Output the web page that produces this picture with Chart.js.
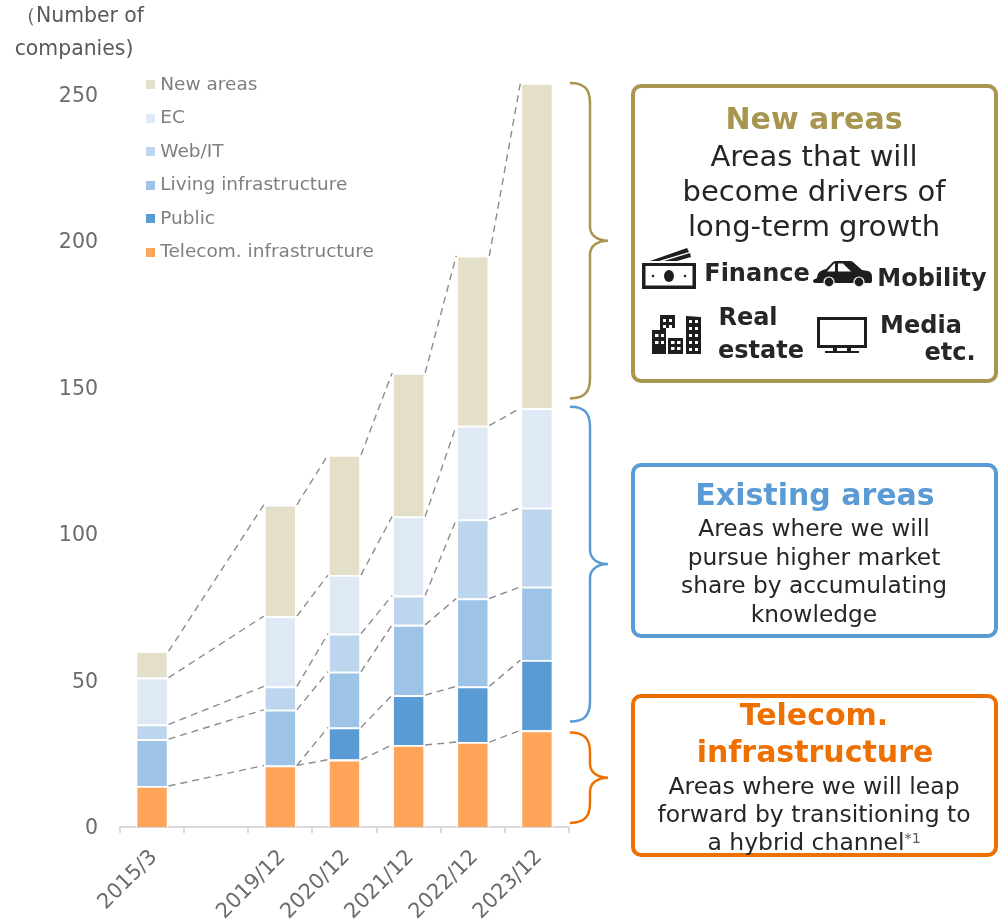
<!DOCTYPE html>
<html><head><meta charset="utf-8">
<script src="https://cdn.jsdelivr.net/npm/chart.js@4/dist/chart.umd.min.js"></script>
<style>
html,body{margin:0;padding:0;background:#fff}
#wrap{position:relative;width:999px;height:919px;overflow:hidden;font-family:"DejaVu Sans",sans-serif}
canvas{position:absolute;left:0;top:0}
.box{position:absolute;box-sizing:border-box;background:transparent;border-style:solid;border-width:4px;border-radius:10px}
.t{position:absolute;white-space:nowrap;transform:translate(-50%,-50%);line-height:1;color:#262626}
sup{font-size:.6em;color:#595959;vertical-align:.55em;line-height:0}
svg{position:absolute;left:0;top:0}
</style></head><body>
<div id="wrap"><canvas id="c" width="999" height="919"></canvas>
<div class="box" style="left:631px;top:84px;width:367px;height:299px;border-color:#A8954F"></div>
<div class="box" style="left:631px;top:463px;width:367px;height:175px;border-color:#5B9BD5"></div>
<div class="box" style="left:631px;top:694px;width:367px;height:163px;border-color:#EE7000"></div>
<svg width="999" height="919" viewBox="0 0 999 919">
 <g fill="#1e1e1e">
  <path d="M642 263h54v26h-54zM645.500 266v19.500h47V266z" fill-rule="evenodd"/>
  <ellipse cx="669" cy="276" rx="5" ry="6"/><circle cx="653" cy="276" r="1.300"/><circle cx="685" cy="276" r="1.300"/>
  <path d="M650 261l37-13 2 4-30 9zM664 261l26-8 1 4-14 4z"/>
  <path fill-rule="evenodd" d="M817 278q0-6 6-8l3-1 7-7q1-1 3-1h14q2 0 3 1l9 8 6 1q4 1 4 6v4q0 2-3 2h-54q-2 0-2-3zM827 271.500h8v-8h-1zM838 271.500h13l-8-8h-5z"/>
  <circle cx="829" cy="282" r="5" stroke="#fff" stroke-width="1.200"/><circle cx="859" cy="282" r="5" stroke="#fff" stroke-width="1.200"/>
  <path fill-rule="evenodd" d="M660 315h15v13h-9v26h-14v-24h8zM663 319v3h3v-3zM669 319v3h3v-3zM663 325v3h3v-3zM669 325v3h3v-3zM655 334v3h3.500v-3zM661 334v3h3v-3zM655 341v3h3.500v-3zM661 341v3h3v-3z"/>
  <path fill-rule="evenodd" d="M668 338h15v16h-15zM671 341v3h3.500v-3zM677 341v3h3.500v-3zM671 347v3h3.500v-3zM677 347v3h3.500v-3z"/>
  <path fill-rule="evenodd" d="M686 316l15 1v37h-15zM689 320v3h3v-3zM695 320v3h3v-3zM689 327v3h3v-3zM695 327v3h3v-3zM689 334v3h3v-3zM695 334v3h3v-3zM689 341v3h3v-3zM695 341v3h3v-3zM689 348v3h3v-3zM695 348v3h3v-3z"/>
  <path fill-rule="evenodd" d="M817 317h50v31h-50zM820 320v25h44v-25zM833 348h4v3h10v-3h4v3h8v2h-34v-2h8z"/>
 </g>
</svg>
</div>
<script>
const categories = ['2015/3', '', '2019/12', '2020/12', '2021/12', '2022/12', '2023/12'];
const telecom  = [14, null, 21, 23, 28, 29, 33];
const publicA  = [0,  null, 0,  11, 17, 19, 24];
const living   = [16, null, 19, 19, 24, 30, 25];
const webIT    = [5,  null, 8,  13, 10, 27, 27];
const ec       = [16, null, 24, 20, 27, 32, 34];
const newAreas = [9,  null, 38, 41, 49, 58, 111];
const seriesNames = ['Telecom. infrastructure', 'Public', 'Living infrastructure', 'Web/IT', 'EC', 'New areas'];
const seriesColors = ['#FFA55A', '#5B9BD5', '#9DC3E6', '#BDD6EE', '#DEE9F5', '#E4DFC8'];
const seriesValues = [telecom, publicA, living, webIT, ec, newAreas];
const yTicks = [0, 50, 100, 150, 200, 250];
const braces = [
  {from: 146.3, to: 254, color: '#A8954F'},
  {from: 36, to: 143.5, color: '#5B9BD5'},
  {from: 1.4, to: 32.3, color: '#EE7000'}
];
const texts = [
  ['（Number of', 80, 15, 20.4, '#595959', 0],
  ['companies)', 74, 48, 20.4, '#595959', 0],
  ['New areas', 814, 119, 30, '#A8954F', 1],
  ['Areas that will', 814, 156, 29, '#262626', 0],
  ['become drivers of', 814, 191, 29, '#262626', 0],
  ['long-term growth', 814, 226, 29, '#262626', 0],
  ['Finance', 757, 273, 24, '#262626', 1],
  ['Mobility', 932, 278, 24, '#262626', 1],
  ['Real', 748, 317, 24, '#262626', 1],
  ['estate', 761, 350, 24, '#262626', 1],
  ['Media', 921, 325, 24, '#262626', 1],
  ['etc.', 950, 352, 24, '#262626', 1],
  ['Existing areas', 815, 495, 30, '#5B9BD5', 1],
  ['Areas where we will', 814, 528, 23.3, '#262626', 0],
  ['pursue higher market', 814, 557, 23.3, '#262626', 0],
  ['share by accumulating', 814, 585, 23.3, '#262626', 0],
  ['knowledge', 814, 614, 23.3, '#262626', 0],
  ['Telecom.', 814, 715, 30, '#EE7000', 1],
  ['infrastructure', 815, 752, 30, '#EE7000', 1],
  ['Areas where we will leap', 814, 787, 23.5, '#262626', 0],
  ['forward by transitioning to', 814, 815, 23.5, '#262626', 0],
  ['a hybrid channel<sup>*1</sup>', 814, 843, 23.5, '#262626', 0]
];
const wrap = document.getElementById('wrap');
texts.forEach(([s, x, y, size, color, bold]) => {
  const d = document.createElement('div');
  d.className = 't'; d.innerHTML = s;
  d.style.cssText = `left:${x}px;top:${y}px;font-size:${size}px;color:${color};font-weight:${bold ? 700 : 400}`;
  wrap.appendChild(d);
});
function swatch(color) {
  const c = document.createElement('canvas'); c.width = 9; c.height = 9;
  const g = c.getContext('2d'); g.fillStyle = color; g.fillRect(0, 0, 9, 9);
  return c;
}
const connectors = {
  id: 'connectors',
  afterDatasetsDraw(chart) {
    const g = chart.ctx;
    g.save(); g.strokeStyle = '#8C8C8C'; g.lineWidth = 1.4; g.setLineDash([7, 5]);
    chart.data.datasets.forEach((ds, i) => {
      if (i === 1) return;
      const pts = chart.getDatasetMeta(i).data.filter((e, j) => ds.data[j] !== null);
      for (let k = 0; k < pts.length - 1; k++) {
        const a = pts[k], b = pts[k + 1];
        g.beginPath(); g.moveTo(a.x + a.width / 2, a.y); g.lineTo(b.x - b.width / 2, b.y); g.stroke();
      }
    });
    const pub = chart.getDatasetMeta(1).data.filter((e, j) => publicA[j] !== null);
    for (let k = 1; k < pub.length - 1; k++) {
      const a = pub[k], b = pub[k + 1];
      g.beginPath(); g.moveTo(a.x + a.width / 2, a.y); g.lineTo(b.x - b.width / 2, b.y); g.stroke();
    }
    g.restore();
  }
};
const braceDraw = {
  id: 'braceDraw',
  afterDraw(chart) {
    const g = chart.ctx, y = chart.scales.y, x0 = chart.chartArea.right + 1, xm = x0 + 20, xt = x0 + 38;
    g.save(); g.lineWidth = 2.5;
    braces.forEach(b => {
      const top = y.getPixelForValue(b.to), bot = y.getPixelForValue(b.from), mid = (top + bot) / 2;
      g.strokeStyle = b.color;
      g.beginPath();
      g.moveTo(x0, top);
      g.bezierCurveTo(xm - 6, top, xm, top + 6, xm, top + 20);
      g.lineTo(xm, mid - 14);
      g.bezierCurveTo(xm, mid - 5, xm + 8, mid, xt, mid);
      g.bezierCurveTo(xm + 8, mid, xm, mid + 5, xm, mid + 14);
      g.lineTo(xm, bot - 20);
      g.bezierCurveTo(xm, bot - 6, xm - 6, bot, x0, bot);
      g.stroke();
    });
    g.restore();
  }
};
const placeLegend = {
  id: 'placeLegend',
  afterLayout(chart) { const l = chart.legend; l.left = 135; l.top = 60.5; l.right = 480; l.bottom = 400; }
};
new Chart(document.getElementById('c'), {
  type: 'bar',
  plugins: [placeLegend, connectors, braceDraw],
  data: {
    labels: categories,
    datasets: seriesNames.map((n, i) => ({
      label: n, data: seriesValues[i], backgroundColor: seriesColors[i],
      borderColor: '#ffffff', borderWidth: 1.8, barPercentage: 1, categoryPercentage: 0.515,
      pointStyle: swatch(seriesColors[i])
    }))
  },
  options: {
    responsive: false, animation: false, maintainAspectRatio: false,
    layout: {padding: {left: 0, right: 430, top: 80, bottom: 0}},
    plugins: {
      tooltip: {enabled: false},
      legend: {
        position: 'chartArea', align: 'start', reverse: true,
        labels: {
          usePointStyle: true, pointStyleWidth: 1, padding: 15,
          color: '#7F7F7F', font: {family: '"DejaVu Sans"', size: 18.5},
          generateLabels(chart) {
            return chart.data.datasets.map((d, i) => ({
              text: d.label, pointStyle: d.pointStyle, fontColor: '#7F7F7F', datasetIndex: i,
              fillStyle: d.backgroundColor, strokeStyle: d.backgroundColor, lineWidth: 0, hidden: false
            }));
          }
        }
      }
    },
    scales: {
      x: {
        stacked: true,
        afterFit(s) { s.height = 92; },
        border: {color: '#D9D9D9', width: 2},
        grid: {drawOnChartArea: false, drawTicks: true, tickLength: 6, color: '#D9D9D9', lineWidth: 2, offset: true},
        ticks: {autoSkip: false, minRotation: 45, maxRotation: 45, color: '#6b6b6b', padding: 12, labelOffset: 2,
                font: {family: '"DejaVu Sans"', size: 21}}
      },
      y: {
        stacked: true, min: 0, max: 255,
        afterFit(s) { s.width = 120; },
        afterBuildTicks(s) { s.ticks = yTicks.map(v => ({value: v})); },
        border: {display: false},
        grid: {display: false},
        ticks: {color: '#6b6b6b', padding: 14, labelOffset: 2, font: {family: '"DejaVu Sans"', size: 20.5}}
      }
    }
  }
});
</script>
</body></html>
